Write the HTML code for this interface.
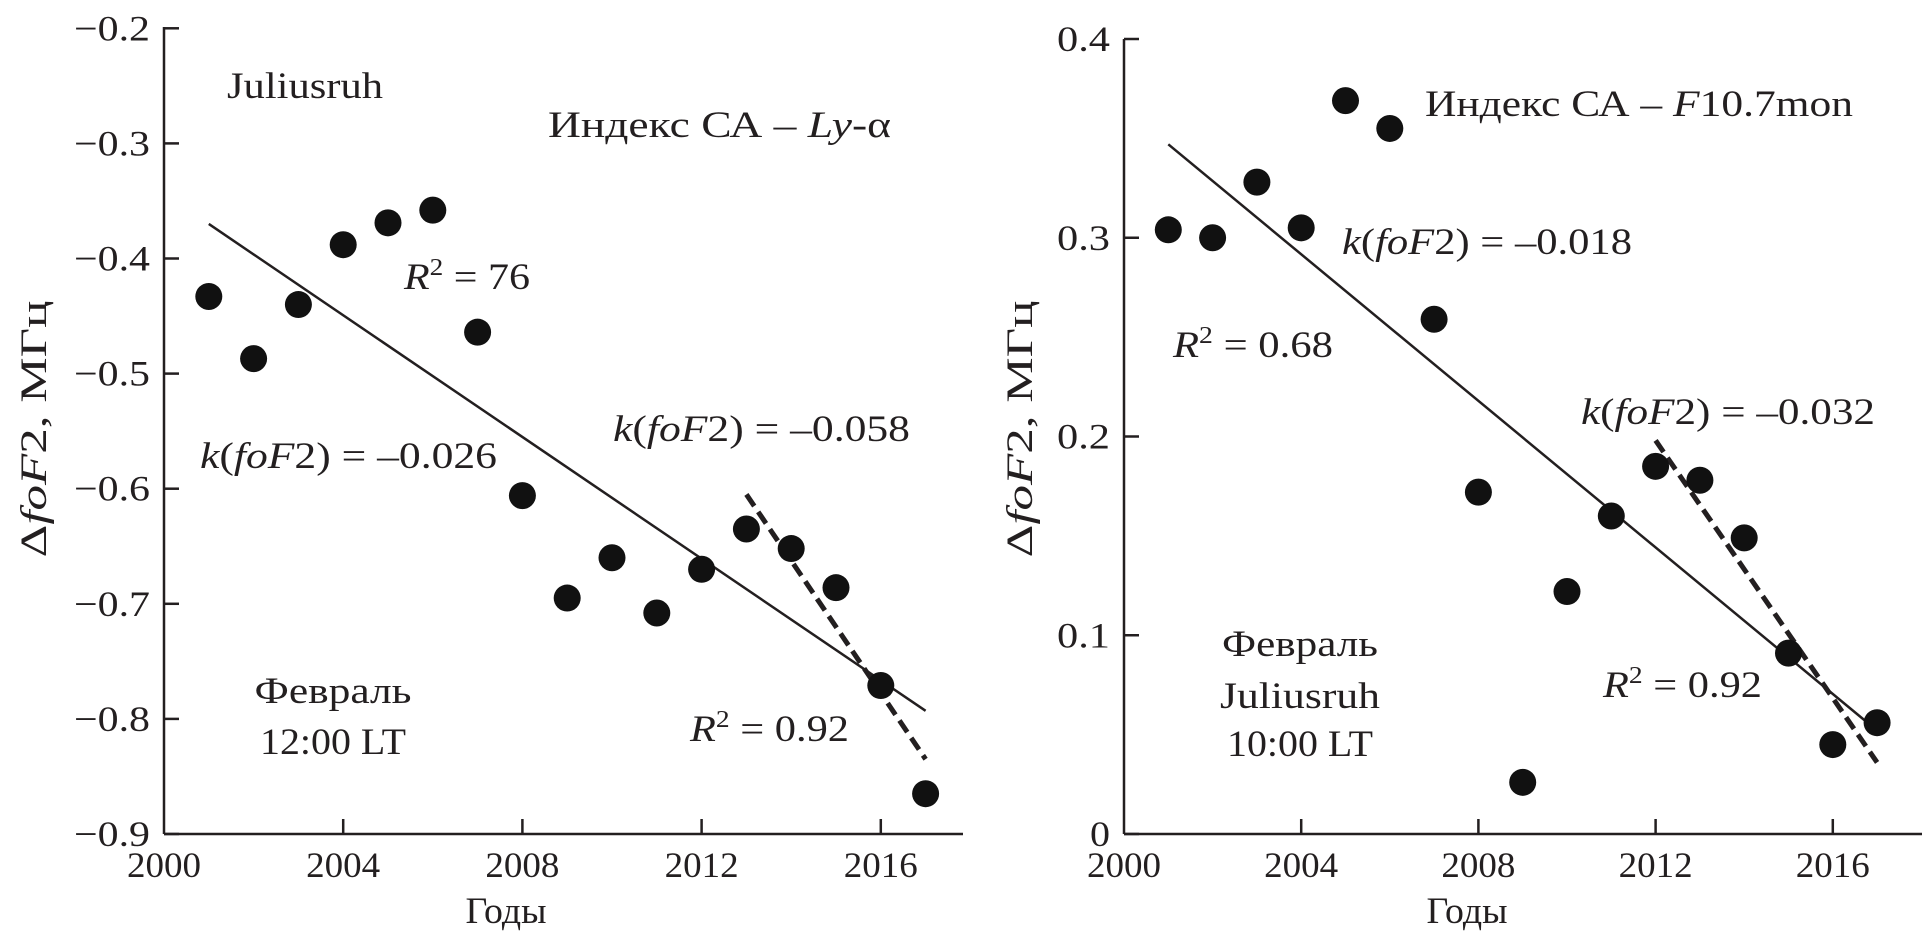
<!DOCTYPE html>
<html><head><meta charset="utf-8"><style>
html,body{margin:0;padding:0;background:#fff;}
svg{display:block;font-family:"Liberation Serif",serif;}
text{fill:#231f20;}
</style></head><body>
<svg id="chart" width="1924" height="943" viewBox="0 0 1924 943" xmlns="http://www.w3.org/2000/svg">
<g id="L"></g>
<g id="R"></g>
</svg>
<script>
const years = [2001,2002,2003,2004,2005,2006,2007,2008,2009,2010,2011,2012,2013,2014,2015,2016,2017];
const leftValues = [-0.433,-0.487,-0.44,-0.388,-0.369,-0.358,-0.464,-0.606,-0.695,-0.66,-0.708,-0.67,-0.635,-0.652,-0.686,-0.771,-0.865];
const rightValues = [0.304,0.300,0.328,0.305,0.369,0.355,0.259,0.172,0.026,0.122,0.160,0.185,0.178,0.149,0.091,0.045,0.056];
const leftTrendYears = [2001,2017];
const leftTrendValues = [-0.37,-0.793];
const leftDashYears = [2013,2017];
const leftDashValues = [-0.605,-0.835];
const rightTrendYears = [2001,2017];
const rightTrendValues = [0.347,0.052];
const rightDashYears = [2012,2017];
const rightDashValues = [0.198,0.036];
const xTicks = [2000,2004,2008,2012,2016];
const leftYTicks = [-0.2,-0.3,-0.4,-0.5,-0.6,-0.7,-0.8,-0.9];
const leftYLabels = ['\u22120.2','\u22120.3','\u22120.4','\u22120.5','\u22120.6','\u22120.7','\u22120.8','\u22120.9'];
const rightYTicks = [0,0.1,0.2,0.3,0.4];
const rightYLabels = ['0','0.1','0.2','0.3','0.4'];

const NS='http://www.w3.org/2000/svg';
function mk(parent,tag,attrs){const e=document.createElementNS(NS,tag);for(const k in attrs)e.setAttribute(k,attrs[k]);parent.appendChild(e);return e;}

function panel(g,cfg){
  const X=v=>cfg.x0+(v-2000)*cfg.px;
  const Y=v=>cfg.yBase-(v-cfg.yMin)*cfg.py;
  let e;
  e=mk(g,'line',{x1:cfg.x0,y1:cfg.yTop,x2:cfg.x0,y2:cfg.yBase,stroke:'#231f20','stroke-width':2.5});
  
  
  e=mk(g,'line',{x1:cfg.x0,y1:cfg.yBase,x2:cfg.xEnd,y2:cfg.yBase,stroke:'#231f20','stroke-width':2.5});
  
  
  cfg.yTicks.forEach((t,i)=>{
    const y=Y(t);
    e=mk(g,'line',{x1:cfg.x0,y1:y,x2:cfg.x0+15,y2:y,stroke:'#231f20','stroke-width':2.5});
    
    
    const lbl=cfg.yLabels[i];
    e=mk(g,'text',{x:cfg.x0-14,y:y+12,'text-anchor':'end','font-size':36,textLength:(lbl.length===1?20:lbl.length===3?53:76),lengthAdjust:'spacingAndGlyphs'});
    e.textContent=lbl;
    
    
  });
  xTicks.forEach(t=>{
    const x=X(t);
    if(t>2000){
      e=mk(g,'line',{x1:x,y1:cfg.yBase,x2:x,y2:cfg.yBase-15,stroke:'#231f20','stroke-width':2.5});
      
      
    }
    e=mk(g,'text',{x:x,y:cfg.yBase+43,'text-anchor':'middle','font-size':36,textLength:74,lengthAdjust:'spacingAndGlyphs'});
    e.textContent=t;
    
    
  });
  e=mk(g,'line',{x1:X(cfg.tY[0]),y1:Y(cfg.tV[0]),x2:X(cfg.tY[1]),y2:Y(cfg.tV[1]),stroke:'#231f20','stroke-width':2.5});
  
  
  e=mk(g,'line',{x1:X(cfg.dY[0]),y1:Y(cfg.dV[0]),x2:X(cfg.dY[1]),y2:Y(cfg.dV[1]),stroke:'#231f20','stroke-width':5,'stroke-dasharray':'14,7'});
  
  
  years.forEach((yr,i)=>{
    e=mk(g,'circle',{cx:X(yr),cy:Y(cfg.vals[i]),r:13.5,fill:'#111'});
    
    
  });
}

panel(document.getElementById('L'),{x0:164,xEnd:963,px:44.8,yBase:834,yTop:27,yMin:-0.9,py:1151,yTicks:leftYTicks,yLabels:leftYLabels,vals:leftValues,tY:leftTrendYears,tV:leftTrendValues,dY:leftDashYears,dV:leftDashValues});
panel(document.getElementById('R'),{x0:1124,xEnd:1922,px:44.3,yBase:834,yTop:39,yMin:0,py:1987.5,yTicks:rightYTicks,yLabels:rightYLabels,vals:rightValues,tY:rightTrendYears,tV:rightTrendValues,dY:rightDashYears,dV:rightDashValues});
</script>
<div style="position:absolute;left:0;top:0;width:1924px;height:943px;pointer-events:none;">
<svg width="1924" height="943" style="font-family:'Liberation Serif',serif;" font-size="37" fill="#231f20">
<g>
<text x="227" y="98" textLength="156" lengthAdjust="spacingAndGlyphs">Juliusruh</text>
<text x="548" y="137" textLength="343" lengthAdjust="spacingAndGlyphs">Индекс СА – <tspan font-style="italic">Ly</tspan>-α</text>
<text x="404" y="289" textLength="126" lengthAdjust="spacingAndGlyphs"><tspan font-style="italic">R</tspan><tspan font-size="24" dy="-14">2</tspan><tspan dy="14"> = 76</tspan></text>
<text x="200" y="468" textLength="297" lengthAdjust="spacingAndGlyphs"><tspan font-style="italic">k</tspan>(<tspan font-style="italic">foF</tspan>2) = –0.026</text>
<text x="613" y="441" textLength="297" lengthAdjust="spacingAndGlyphs"><tspan font-style="italic">k</tspan>(<tspan font-style="italic">foF</tspan>2) = –0.058</text>
<text x="690" y="741" textLength="159" lengthAdjust="spacingAndGlyphs"><tspan font-style="italic">R</tspan><tspan font-size="24" dy="-14">2</tspan><tspan dy="14"> = 0.92</tspan></text>
<text x="333" y="703" text-anchor="middle" textLength="157" lengthAdjust="spacingAndGlyphs">Февраль</text>
<text x="333" y="754" text-anchor="middle" textLength="146" lengthAdjust="spacingAndGlyphs">12:00 LT</text>
<text x="506" y="923" text-anchor="middle" textLength="81" lengthAdjust="spacingAndGlyphs">Годы</text>
<text transform="translate(46,429) rotate(-90)" text-anchor="middle" textLength="257" lengthAdjust="spacingAndGlyphs">Δ<tspan font-style="italic">foF</tspan>2, МГц</text>
</g>
<g>
<text x="1425" y="116" textLength="428" lengthAdjust="spacingAndGlyphs">Индекс СА – <tspan font-style="italic">F</tspan>10.7mon</text>
<text x="1342" y="254" textLength="290" lengthAdjust="spacingAndGlyphs"><tspan font-style="italic">k</tspan>(<tspan font-style="italic">foF</tspan>2) = –0.018</text>
<text x="1173" y="357" textLength="160" lengthAdjust="spacingAndGlyphs"><tspan font-style="italic">R</tspan><tspan font-size="24" dy="-14">2</tspan><tspan dy="14"> = 0.68</tspan></text>
<text x="1581" y="424" textLength="294" lengthAdjust="spacingAndGlyphs"><tspan font-style="italic">k</tspan>(<tspan font-style="italic">foF</tspan>2) = –0.032</text>
<text x="1603" y="697" textLength="159" lengthAdjust="spacingAndGlyphs"><tspan font-style="italic">R</tspan><tspan font-size="24" dy="-14">2</tspan><tspan dy="14"> = 0.92</tspan></text>
<text x="1300" y="656" text-anchor="middle" textLength="156" lengthAdjust="spacingAndGlyphs">Февраль</text>
<text x="1300" y="708" text-anchor="middle" textLength="160" lengthAdjust="spacingAndGlyphs">Juliusruh</text>
<text x="1300" y="756" text-anchor="middle" textLength="146" lengthAdjust="spacingAndGlyphs">10:00 LT</text>
<text x="1467" y="923" text-anchor="middle" textLength="81" lengthAdjust="spacingAndGlyphs">Годы</text>
<text transform="translate(1032,429) rotate(-90)" text-anchor="middle" textLength="257" lengthAdjust="spacingAndGlyphs">Δ<tspan font-style="italic">foF</tspan>2, МГц</text>
</g>
</svg>
</div>
</body></html>
